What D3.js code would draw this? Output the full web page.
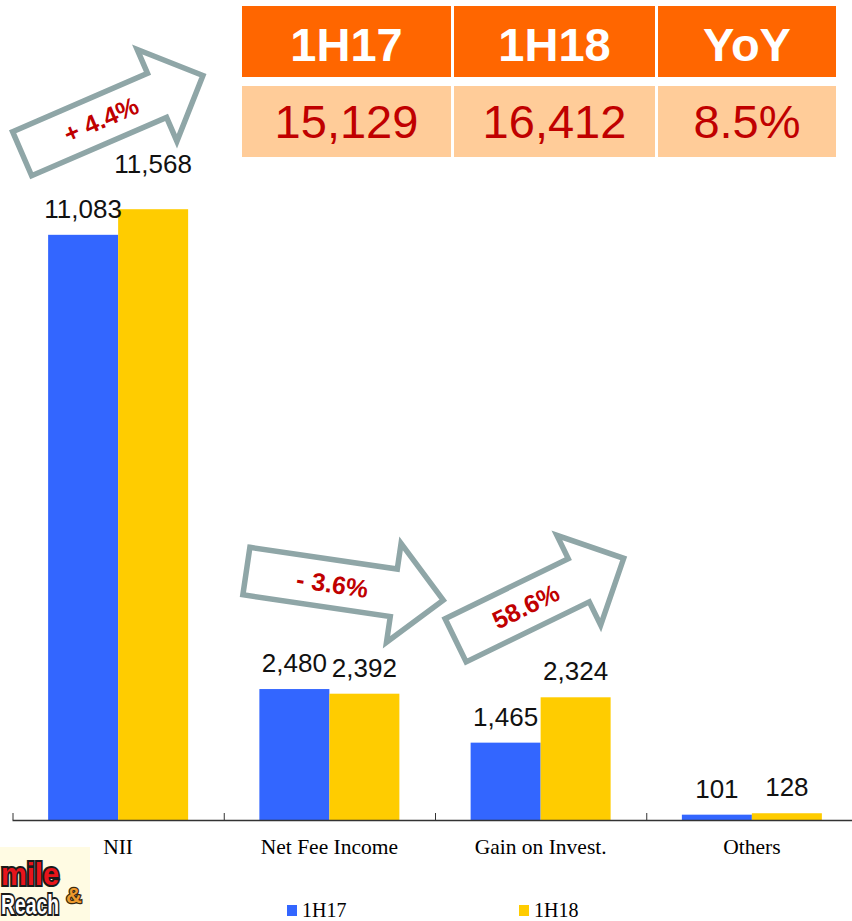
<!DOCTYPE html>
<html>
<head>
<meta charset="utf-8">
<script src="https://cdn.jsdelivr.net/npm/d3@7"></script>
<style>
  html, body { margin: 0; padding: 0; background: #fff; }
  svg { display: block; }
</style>
</head>
<body>
<svg id="chart" width="852" height="921"></svg>
<script>
// Income breakdown, first half 2017 vs first half 2018
const categories = ["NII", "Net Fee Income", "Gain on Invest.", "Others"];
const periods = ["1H17", "1H18"];
const values1H17 = [11083, 2480, 1465, 101];
const values1H18 = [11568, 2392, 2324, 128];
const tableHeaders = ["1H17", "1H18", "YoY"];
const changeCategories = ["NII", "Net Fee Income", "Gain on Invest."];
const changeLabels = ["+ 4.4%", "- 3.6%", "58.6%"];

const colors = { "1H17": "#3366FF", "1H18": "#FFCC00" };
const sans = "'Liberation Sans', Arial, sans-serif";
const serif = "'Liberation Serif', 'Times New Roman', serif";

const svg = d3.select("#chart");

const baseY = 820;
const x = d3.scaleBand().domain(categories).range([12.5, 857.5]);
const groupWidth = 140;
const x1 = d3.scaleBand().domain(periods).range([0, groupWidth]);
const y = d3.scaleLinear().domain([0, 15000]).range([baseY, baseY - 0.0528 * 15000]);

const rows = categories.map((c, i) => ({
  cat: c,
  vals: [
    { period: "1H17", value: values1H17[i] },
    { period: "1H18", value: values1H18[i] }
  ]
}));

const fmt = d3.format(",");

// Bars
const groups = svg.append("g").selectAll("g").data(rows).join("g")
  .attr("transform", d => `translate(${x(d.cat) + (x.bandwidth() - groupWidth) / 2},0)`);

groups.selectAll("rect").data(d => d.vals).join("rect")
  .attr("x", d => x1(d.period))
  .attr("y", d => y(d.value))
  .attr("width", x1.bandwidth())
  .attr("height", d => baseY - y(d.value))
  .attr("fill", d => colors[d.period]);

// Value labels; the taller NII label is lifted clear of its neighbour
const labelLift = (cat, period) => (cat === "NII" && period === "1H18") ? 19 : 0;
groups.each(function (row) {
  d3.select(this).selectAll("text.val").data(row.vals).join("text")
    .attr("class", "val")
    .attr("x", d => x1(d.period) + x1.bandwidth() / 2)
    .attr("y", d => y(d.value) - 17 - labelLift(row.cat, d.period))
    .attr("text-anchor", "middle")
    .attr("font-family", sans)
    .attr("font-size", 26)
    .attr("fill", "#111")
    .text(d => fmt(d.value));
});

// Category axis
const axis = svg.append("g");
axis.append("line")
  .attr("x1", x.range()[0]).attr("x2", 852)
  .attr("y1", baseY + 0.5).attr("y2", baseY + 0.5)
  .attr("stroke", "#333").attr("stroke-width", 1.5);
axis.selectAll("line.tick").data(categories).join("line")
  .attr("class", "tick")
  .attr("x1", d => x(d) + 0.5).attr("x2", d => x(d) + 0.5)
  .attr("y1", baseY).attr("y2", baseY - 7)
  .attr("stroke", "#333").attr("stroke-width", 1);
axis.selectAll("text").data(categories).join("text")
  .attr("x", d => x(d) + x.bandwidth() / 2)
  .attr("y", 854)
  .attr("text-anchor", "middle")
  .attr("font-family", serif)
  .attr("font-size", 21.5)
  .attr("fill", "#000")
  .text(d => d);

// Legend
const legendX = { "1H17": 287, "1H18": 519 };
const legend = svg.append("g").selectAll("g").data(periods).join("g")
  .attr("transform", d => `translate(${legendX[d]},905)`);
legend.append("rect").attr("width", 10).attr("height", 11).attr("fill", d => colors[d]);
legend.append("text")
  .attr("x", 15).attr("y", 12)
  .attr("font-family", serif).attr("font-size", 20)
  .attr("fill", "#000")
  .text(d => d);

// Summary table: totals and growth
const total17 = d3.sum(values1H17);
const total18 = d3.sum(values1H18);
const yoy = (total18 / total17 - 1) * 100;
const tableValues = [fmt(total17), fmt(total18), yoy.toFixed(1) + "%"];
const tableCols = [[242, 451], [454, 655], [658, 836]];

const table = svg.append("g");
table.selectAll("rect.head").data(tableHeaders).join("rect")
  .attr("class", "head")
  .attr("x", (d, i) => tableCols[i][0]).attr("y", 6)
  .attr("width", (d, i) => tableCols[i][1] - tableCols[i][0]).attr("height", 71)
  .attr("fill", "#FF6600");
table.selectAll("rect.cell").data(tableValues).join("rect")
  .attr("class", "cell")
  .attr("x", (d, i) => tableCols[i][0]).attr("y", 86)
  .attr("width", (d, i) => tableCols[i][1] - tableCols[i][0]).attr("height", 71)
  .attr("fill", "#FFCC99");
table.selectAll("text.head").data(tableHeaders).join("text")
  .attr("class", "head")
  .attr("x", (d, i) => (tableCols[i][0] + tableCols[i][1]) / 2).attr("y", 61)
  .attr("text-anchor", "middle")
  .attr("font-family", sans).attr("font-weight", "bold").attr("font-size", 47)
  .attr("fill", "#fff")
  .text(d => d);
table.selectAll("text.cell").data(tableValues).join("text")
  .attr("class", "cell")
  .attr("x", (d, i) => (tableCols[i][0] + tableCols[i][1]) / 2).attr("y", 138)
  .attr("text-anchor", "middle")
  .attr("font-family", sans).attr("font-size", 47)
  .attr("fill", "#C00000")
  .text(d => d);

// Growth arrows between the paired bars
const arrowLayout = {
  "NII":             { dx: -96, dy: -55.5, angle: -23.4, len: 197, textAt: 86 },
  "Net Fee Income":  { dx: -83, dy: -118,  angle: 8.4,   len: 199, textAt: 87 },
  "Gain on Invest.": { dx: -85, dy: -57,   angle: -26,   len: 187, textAt: 78 }
};
const shaftHalf = 24, headHalf = 50, headLen = 50;

function arrowPath(L) {
  const pts = [
    [0, -shaftHalf], [L - headLen, -shaftHalf], [L - headLen, -headHalf],
    [L, 0], [L - headLen, headHalf], [L - headLen, shaftHalf], [0, shaftHalf]
  ];
  return "M" + pts.map(p => p.join(",")).join("L") + "Z";
}

const arrows = svg.append("g").selectAll("g").data(changeCategories).join("g")
  .attr("transform", c => {
    const i = categories.indexOf(c);
    const a = arrowLayout[c];
    const cx = x(c) + x.bandwidth() / 2 + a.dx;
    const cy = y(Math.max(values1H17[i], values1H18[i])) + a.dy;
    return `translate(${cx},${cy}) rotate(${a.angle})`;
  });

arrows.append("path")
  .attr("d", c => arrowPath(arrowLayout[c].len))
  .attr("fill", "#fff")
  .attr("stroke", "#8FA6A7")
  .attr("stroke-width", 5.5)
  .attr("stroke-linejoin", "miter");

arrows.append("text")
  .attr("x", c => arrowLayout[c].textAt)
  .attr("y", 9)
  .attr("text-anchor", "middle")
  .attr("font-family", sans).attr("font-weight", "bold").attr("font-size", 25)
  .attr("fill", "#C00000")
  .text((c, i) => changeLabels[i]);

// Brand mark, bottom left
const logo = svg.append("g");
logo.append("rect").attr("x", 0).attr("y", 847).attr("width", 90).attr("height", 74).attr("fill", "#FFFBE3");
logo.append("text")
  .attr("x", 1).attr("y", 885)
  .attr("textLength", 58).attr("lengthAdjust", "spacingAndGlyphs")
  .attr("font-family", sans).attr("font-weight", "bold").attr("font-size", 31)
  .attr("fill", "#E8141B").attr("stroke", "#1a1a1a").attr("stroke-width", 4)
  .attr("paint-order", "stroke")
  .text("mile");
logo.append("text")
  .attr("x", 66).attr("y", 903)
  .attr("font-family", sans).attr("font-weight", "bold").attr("font-size", 22)
  .attr("fill", "#EE9A2E").attr("stroke", "#3a2a10").attr("stroke-width", 2.5)
  .attr("paint-order", "stroke")
  .text("&");
logo.append("text")
  .attr("x", 1).attr("y", 914)
  .attr("textLength", 58).attr("lengthAdjust", "spacingAndGlyphs")
  .attr("font-family", sans).attr("font-weight", "bold").attr("font-size", 27)
  .attr("fill", "#fff").attr("stroke", "#1a1a1a").attr("stroke-width", 4)
  .attr("paint-order", "stroke")
  .text("Reach");
</script>
</body>
</html>
